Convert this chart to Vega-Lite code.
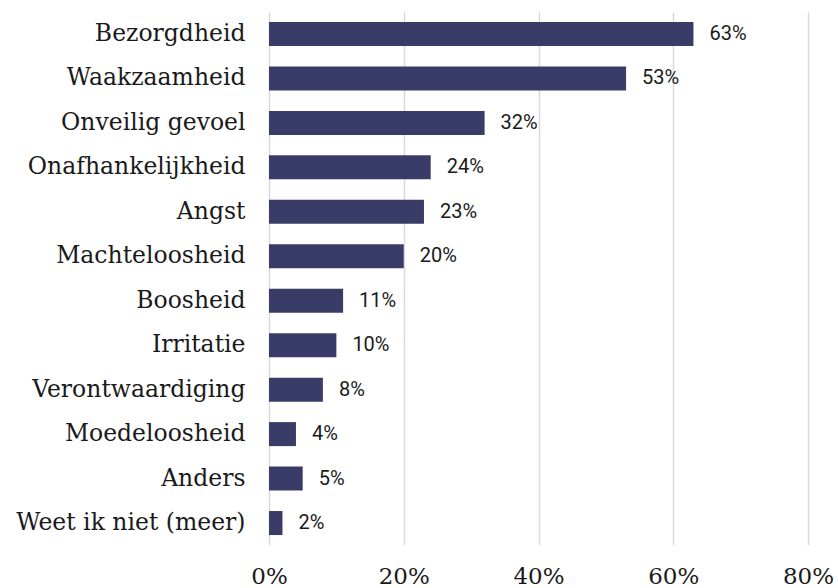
{
  "$schema": "https://vega.github.io/schema/vega-lite/v6.json",
  "width": 539,
  "height": 533,
  "autosize": {"type": "none"},
  "padding": {"left": 269, "top": 12, "right": 30, "bottom": 43},
  "background": "white",
  "config": {"view": {"stroke": null}},
  "data": {"values": [
    {"cat": "Bezorgdheid", "v": 0.63},
    {"cat": "Waakzaamheid", "v": 0.53},
    {"cat": "Onveilig gevoel", "v": 0.32},
    {"cat": "Onafhankelijkheid", "v": 0.24},
    {"cat": "Angst", "v": 0.23},
    {"cat": "Machteloosheid", "v": 0.20},
    {"cat": "Boosheid", "v": 0.11},
    {"cat": "Irritatie", "v": 0.10},
    {"cat": "Verontwaardiging", "v": 0.08},
    {"cat": "Moedeloosheid", "v": 0.04},
    {"cat": "Anders", "v": 0.05},
    {"cat": "Weet ik niet (meer)", "v": 0.02}
  ]},
  "encoding": {
    "y": {"field": "cat", "type": "nominal", "sort": null,
      "scale": {"paddingInner": 0.46, "paddingOuter": 0.224},
      "axis": {"title": null, "domain": false, "ticks": false, "labelPadding": 24,
        "labelFont": "DejaVu Serif", "labelFontSize": 23.5, "labelColor": "#1a1a1a", "labelLimit": 400}},
    "x": {"field": "v", "type": "quantitative",
      "scale": {"domain": [0, 0.8], "nice": false},
      "axis": {"title": null, "format": ".0%", "values": [0, 0.2, 0.4, 0.6, 0.8],
        "domain": false, "ticks": false, "grid": true, "gridColor": "#d9d9d9", "gridWidth": 1.5,
        "labelPadding": 20, "labelFont": "DejaVu Serif", "labelFontSize": 23, "labelColor": "#1a1a1a",
        "labelFlush": false}}
  },
  "layer": [
    {"mark": {"type": "bar", "color": "#383c66"}},
    {"mark": {"type": "text", "align": "left", "dx": 16, "font": "Roboto", "fontSize": 20, "color": "#1a1a1a"},
      "encoding": {"text": {"field": "v", "type": "quantitative", "format": ".0%"}}}
  ]
}
